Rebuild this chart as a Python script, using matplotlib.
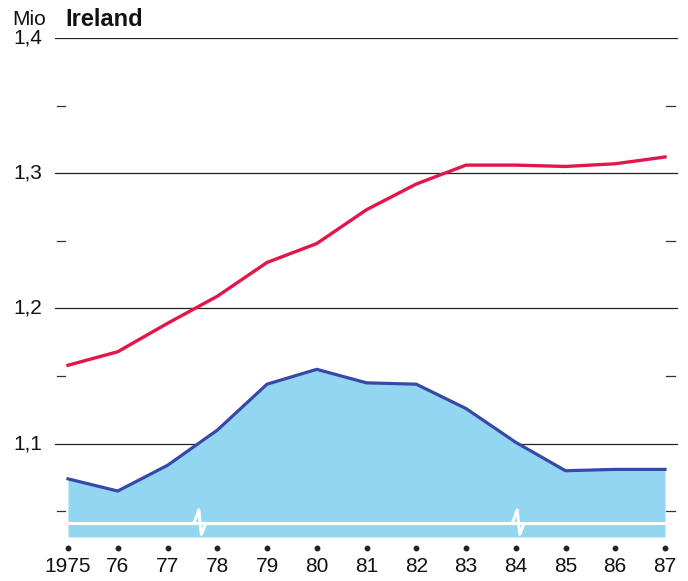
import matplotlib
matplotlib.use("Agg")
import matplotlib.pyplot as plt
import matplotlib.transforms as mtransforms

plt.rcParams['font.family'] = ['Liberation Sans', 'DejaVu Sans']

# data (million)
years = [1975, 1976, 1977, 1978, 1979, 1980, 1981, 1982, 1983, 1984, 1985, 1986, 1987]
year_labels = ['1975', '76', '77', '78', '79', '80', '81', '82', '83', '84', '85', '86', '87']
red_vals = [1.158, 1.168, 1.189, 1.209, 1.234, 1.248, 1.273, 1.292, 1.306, 1.306, 1.305, 1.307, 1.312]
blue_vals = [1.074, 1.065, 1.084, 1.110, 1.144, 1.155, 1.145, 1.144, 1.126, 1.101, 1.080, 1.081, 1.081]
grid_vals = [1.1, 1.2, 1.3, 1.4]
grid_labels = ['1,1', '1,2', '1,3', '1,4']
minor_vals = [1.05, 1.15, 1.25, 1.35]
break_years = [1977.65, 1984.05]

fig = plt.figure(figsize=(6.88, 5.81), dpi=100)
ax = fig.add_axes([55 / 688, 44 / 581, 623 / 688, 499 / 581])
ax.set_xlim(1975 - 13 / 49.75, 1987 + 13 / 49.75)
ax.set_ylim(1.031, 1.4)
ax.axis('off')

# grid lines
for v in grid_vals:
    ax.axhline(v, color='#222222', lw=0.9, zorder=1)

# blue area and lines
ax.fill_between(years, 1.031, blue_vals, color='#93d6f2', lw=0, zorder=2)
ax.plot(years, blue_vals, color='#3848a8', lw=2.3, zorder=4, solid_joinstyle='round')
ax.plot(years, red_vals, color='#e3164a', lw=2.4, zorder=4, solid_joinstyle='round')

# white baseline with break marks
base = 1.041
ax.plot([years[0], years[-1]], [base, base], color='white', lw=2.2, zorder=3,
        solid_capstyle='butt')
for bx in break_years:
    ax.plot([bx - 0.12, bx - 0.02, bx + 0.03, bx + 0.12],
            [base, base + 0.010, base - 0.008, base],
            color='white', lw=2.2, zorder=3)

# minor ticks left and right
for v in minor_vals:
    ax.plot([1975 - 11 / 49.75, 1975 - 3 / 49.75], [v, v], color='#333333', lw=0.9,
            clip_on=False, zorder=1)
    ax.plot([1987 + 1 / 49.75, 1987 + 10 / 49.75], [v, v], color='#333333', lw=0.9,
            clip_on=False, zorder=1)

# y labels
ytr = mtransforms.blended_transform_factory(fig.transFigure, ax.transData)
for v, lab in zip(grid_vals, grid_labels):
    ax.text(13 / 688, v, lab, transform=ytr, ha='left', va='center', fontsize=15,
            color='#111111')
ax.text(12 / 688, 1.4 + 0.0135, 'Mio', transform=ytr, ha='left', va='center',
        fontsize=15, color='#111111')
ax.text(65 / 688, 1.4 + 0.0135, 'Ireland', transform=ytr, ha='left', va='center',
        fontsize=17, fontweight='bold', color='#111111')

# x labels with dots
xtr = mtransforms.blended_transform_factory(ax.transData, fig.transFigure)
ax.plot(years, [(581 - 548) / 581] * len(years), 'o', ms=3.2, color='#222222',
        transform=xtr, clip_on=False)
for x, lab in zip(years, year_labels):
    ax.text(x, (581 - 567) / 581, lab, transform=xtr, ha='center', va='center',
            fontsize=15, color='#111111')

fig.savefig('out.png', dpi=100)
